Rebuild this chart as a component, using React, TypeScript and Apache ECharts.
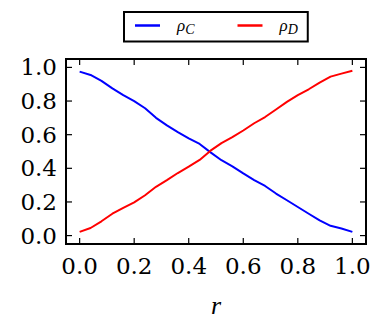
import React, { useEffect, useRef } from "react";
import * as echarts from "echarts";

const rValues = [0, 0.04, 0.08, 0.12, 0.16, 0.2, 0.24, 0.28, 0.32, 0.36, 0.4, 0.44, 0.48, 0.52, 0.56, 0.6, 0.64, 0.68, 0.72, 0.76, 0.8, 0.84, 0.88, 0.92, 0.96, 1.0];
const rhoC = [0.975, 0.955, 0.92, 0.875, 0.835, 0.8, 0.757, 0.7, 0.655, 0.615, 0.578, 0.545, 0.495, 0.448, 0.412, 0.37, 0.33, 0.295, 0.25, 0.21, 0.17, 0.13, 0.09, 0.058, 0.042, 0.022];
const rhoD = [0.022, 0.045, 0.085, 0.13, 0.165, 0.198, 0.24, 0.29, 0.33, 0.372, 0.41, 0.45, 0.505, 0.55, 0.585, 0.625, 0.668, 0.705, 0.75, 0.795, 0.835, 0.87, 0.91, 0.945, 0.963, 0.98];
const tickValues = [0, 0.2, 0.4, 0.6, 0.8, 1.0];
const seriesNames = ["ρC", "ρD"];

const FONT = "DejaVu Serif";
const TICK_LEN = 6;

export default function App() {
  const ref = useRef<HTMLDivElement>(null);
  useEffect(() => {
    if (!ref.current) return;
    const chart = echarts.init(ref.current, null, { renderer: "svg" });
    const axis = (margin: number) => ({
      type: "value",
      min: -0.05,
      max: 1.05,
      axisLine: { show: false },
      splitLine: { show: false },
      axisTick: { show: false },
      axisLabel: {
        customValues: tickValues,
        formatter: (v: number) => v.toFixed(1),
        fontFamily: FONT,
        fontSize: 23,
        color: "#000",
        margin,
      },
    });
    const xAxis: any = {
      ...axis(10),
      name: "r",
      nameLocation: "middle",
      nameGap: 48,
      nameTextStyle: { fontFamily: "Liberation Serif", fontStyle: "italic", fontSize: 26, color: "#000" },
    };
    const tickStyle = { stroke: "#000", lineWidth: 1.2 };
    chart.setOption({
      animation: false,
      grid: { left: 66, right: 13, top: 59, bottom: 78, outerBoundsMode: "none", containLabel: false },
      legend: {
        left: 124,
        top: 12,
        padding: [5, 10, 5, 11],
        borderColor: "#000",
        borderWidth: 2,
        icon: "rect",
        itemWidth: 25,
        itemHeight: 2.5,
        itemGap: 43,
        data: seriesNames,
        formatter: (n: string) => `{a|${n[0]}}{b|${n[1]}}`,
        textStyle: {
          color: "#000",
          rich: {
            a: { fontFamily: "Liberation Serif", fontStyle: "italic", fontSize: 17, padding: [0, 0, 0, 12] },
            b: { fontFamily: "Liberation Serif", fontStyle: "italic", fontSize: 14, padding: [8, 0, 0, 0] },
          },
        },
      },
      xAxis,
      yAxis: axis(9),
      series: [
        {
          name: seriesNames[0],
          type: "line",
          symbol: "none",
          data: rValues.map((r, i) => [r, rhoC[i]]),
          lineStyle: { color: "#0000ff", width: 2 },
          itemStyle: { color: "#0000ff" },
        },
        {
          name: seriesNames[1],
          type: "line",
          symbol: "none",
          data: rValues.map((r, i) => [r, rhoD[i]]),
          lineStyle: { color: "#ff0000", width: 2 },
          itemStyle: { color: "#ff0000" },
        },
        {
          name: "frame",
          type: "custom",
          silent: true,
          clip: false,
          z: 10,
          data: tickValues.map((v) => [v, v]),
          renderItem: (params: any, api: any) => {
            const cs = params.coordSys;
            const v = api.value(0);
            const p = api.coord([v, v]);
            const l = cs.x, t = cs.y, r = cs.x + cs.width, b = cs.y + cs.height;
            const children: any[] = [
              { type: "line", shape: { x1: p[0], y1: b, x2: p[0], y2: b - TICK_LEN }, style: tickStyle },
              { type: "line", shape: { x1: p[0], y1: t, x2: p[0], y2: t + TICK_LEN }, style: tickStyle },
              { type: "line", shape: { x1: l, y1: p[1], x2: l + TICK_LEN, y2: p[1] }, style: tickStyle },
              { type: "line", shape: { x1: r, y1: p[1], x2: r - TICK_LEN, y2: p[1] }, style: tickStyle },
            ];
            if (params.dataIndex === 0) {
              children.push({
                type: "rect",
                shape: { x: l, y: t, width: cs.width, height: cs.height },
                style: { fill: "none", stroke: "#000", lineWidth: 2 },
              });
            }
            return { type: "group", children };
          },
        },
      ],
    });
    return () => chart.dispose();
  }, []);
  return <div ref={ref} style={{ width: 379, height: 322, position: "absolute", left: 0, top: 0 }} />;
}
